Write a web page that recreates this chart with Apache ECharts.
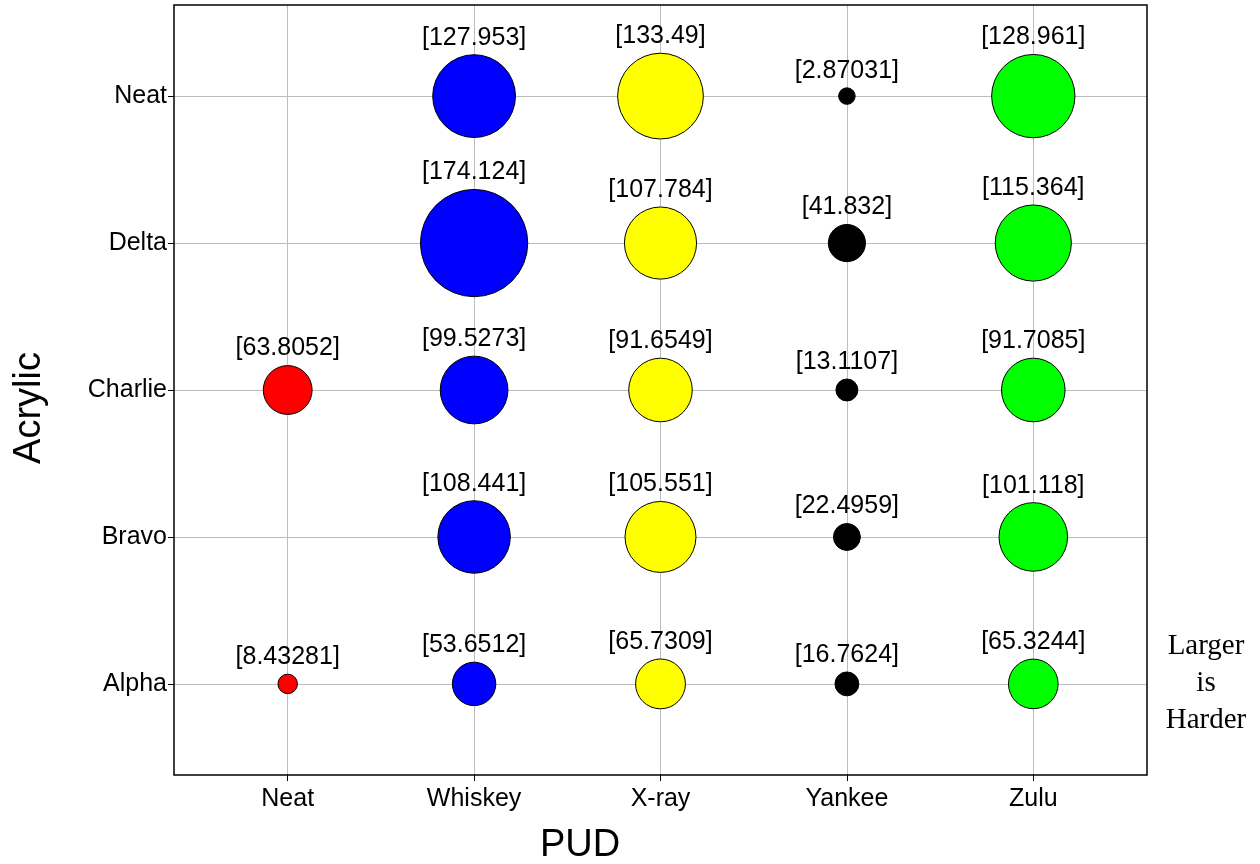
<!DOCTYPE html>
<html>
<head>
<meta charset="utf-8">
<script src="https://cdn.jsdelivr.net/npm/echarts@6/dist/echarts.min.js"></script>
<style>html,body{margin:0;padding:0;background:#fff}#c{width:1260px;height:864px}</style>
</head>
<body>
<div id="c"></div>
<script>
// Data
const xCategories = ['Neat', 'Whiskey', 'X-ray', 'Yankee', 'Zulu'];
const yCategories = ['Alpha', 'Bravo', 'Charlie', 'Delta', 'Neat'];
// values per x column, ordered Alpha, Bravo, Charlie, Delta, Neat
const neatValues    = [8.43281, null, 63.8052, null, null];
const whiskeyValues = [53.6512, 108.441, 99.5273, 174.124, 127.953];
const xrayValues    = [65.7309, 105.551, 91.6549, 107.784, 133.49];
const yankeeValues  = [16.7624, 22.4959, 13.1107, 41.832, 2.87031];
const zuluValues    = [65.3244, 101.118, 91.7085, 115.364, 128.961];
const columnValues = [neatValues, whiskeyValues, xrayValues, yankeeValues, zuluValues];
const columnColors = ['#ff0000', '#0000ff', '#ffff00', '#000000', '#00ff00'];

const FONT = '"Liberation Sans", Arial, sans-serif';

const series = columnValues.map((vals, xi) => ({
  type: 'scatter',
  data: vals.map((v, yi) => v == null ? null : [xi, yi, v]).filter(d => d),
  symbol: 'circle',
  symbolSize: d => 15 + 0.53 * d[2],
  itemStyle: { color: columnColors[xi], borderColor: '#000', borderWidth: 1, opacity: 1 },
  label: {
    show: true, position: 'top', distance: 4,
    formatter: p => '[' + p.value[2] + ']',
    color: '#000', fontFamily: FONT, fontSize: 25
  },
  emphasis: { disabled: true },
  z: 3
}));

const chart = echarts.init(document.getElementById('c'), null, { renderer: 'canvas' });
chart.setOption({
  animation: false,
  backgroundColor: '#fff',
  grid: { left: 174, right: 113, top: 5, bottom: 89, show: true, borderColor: '#000', borderWidth: 1.5, backgroundColor: 'transparent', z: 5 },
  xAxis: {
    type: 'value', min: -0.61, max: 4.61,
    axisLine: { show: false, onZero: false },
    axisTick: { show: true, length: 6, lineStyle: { color: '#000' }, customValues: [0, 1, 2, 3, 4] },
    axisLabel: {
      customValues: [0, 1, 2, 3, 4],
      formatter: v => (Number.isInteger(v) ? xCategories[v] : ''),
      color: '#000', fontFamily: FONT, fontSize: 25, margin: 12,
      showMinLabel: true, showMaxLabel: true
    },
    splitLine: { show: true, lineStyle: { color: '#bdbdbd', width: 1 } }
  },
  yAxis: {
    type: 'value', min: -0.62, max: 4.62,
    axisLine: { show: false, onZero: false },
    axisTick: { show: true, length: 6, lineStyle: { color: '#000' }, customValues: [0, 1, 2, 3, 4] },
    axisLabel: {
      customValues: [0, 1, 2, 3, 4],
      formatter: v => (Number.isInteger(v) ? yCategories[v] : ''),
      color: '#000', fontFamily: FONT, fontSize: 25, margin: 7
    },
    splitLine: { show: true, lineStyle: { color: '#bdbdbd', width: 1 } }
  },
  graphic: [
    { type: 'text', x: 30, y: 408, rotation: Math.PI / 2,
      style: { text: 'Acrylic', font: '38px ' + FONT, fill: '#000', textAlign: 'center', textVerticalAlign: 'middle' } },
    { type: 'text', x: 580, y: 846,
      style: { text: 'PUD', font: '38px ' + FONT, fill: '#000', textAlign: 'center', textVerticalAlign: 'middle' } },
    { type: 'text', x: 1206, y: 683,
      style: { text: 'Larger\nis\nHarder', font: '29px "Liberation Serif", "Times New Roman", serif', lineHeight: 37, fill: '#000', textAlign: 'center', textVerticalAlign: 'middle' } }
  ],
  series: series
});
</script>
</body>
</html>
